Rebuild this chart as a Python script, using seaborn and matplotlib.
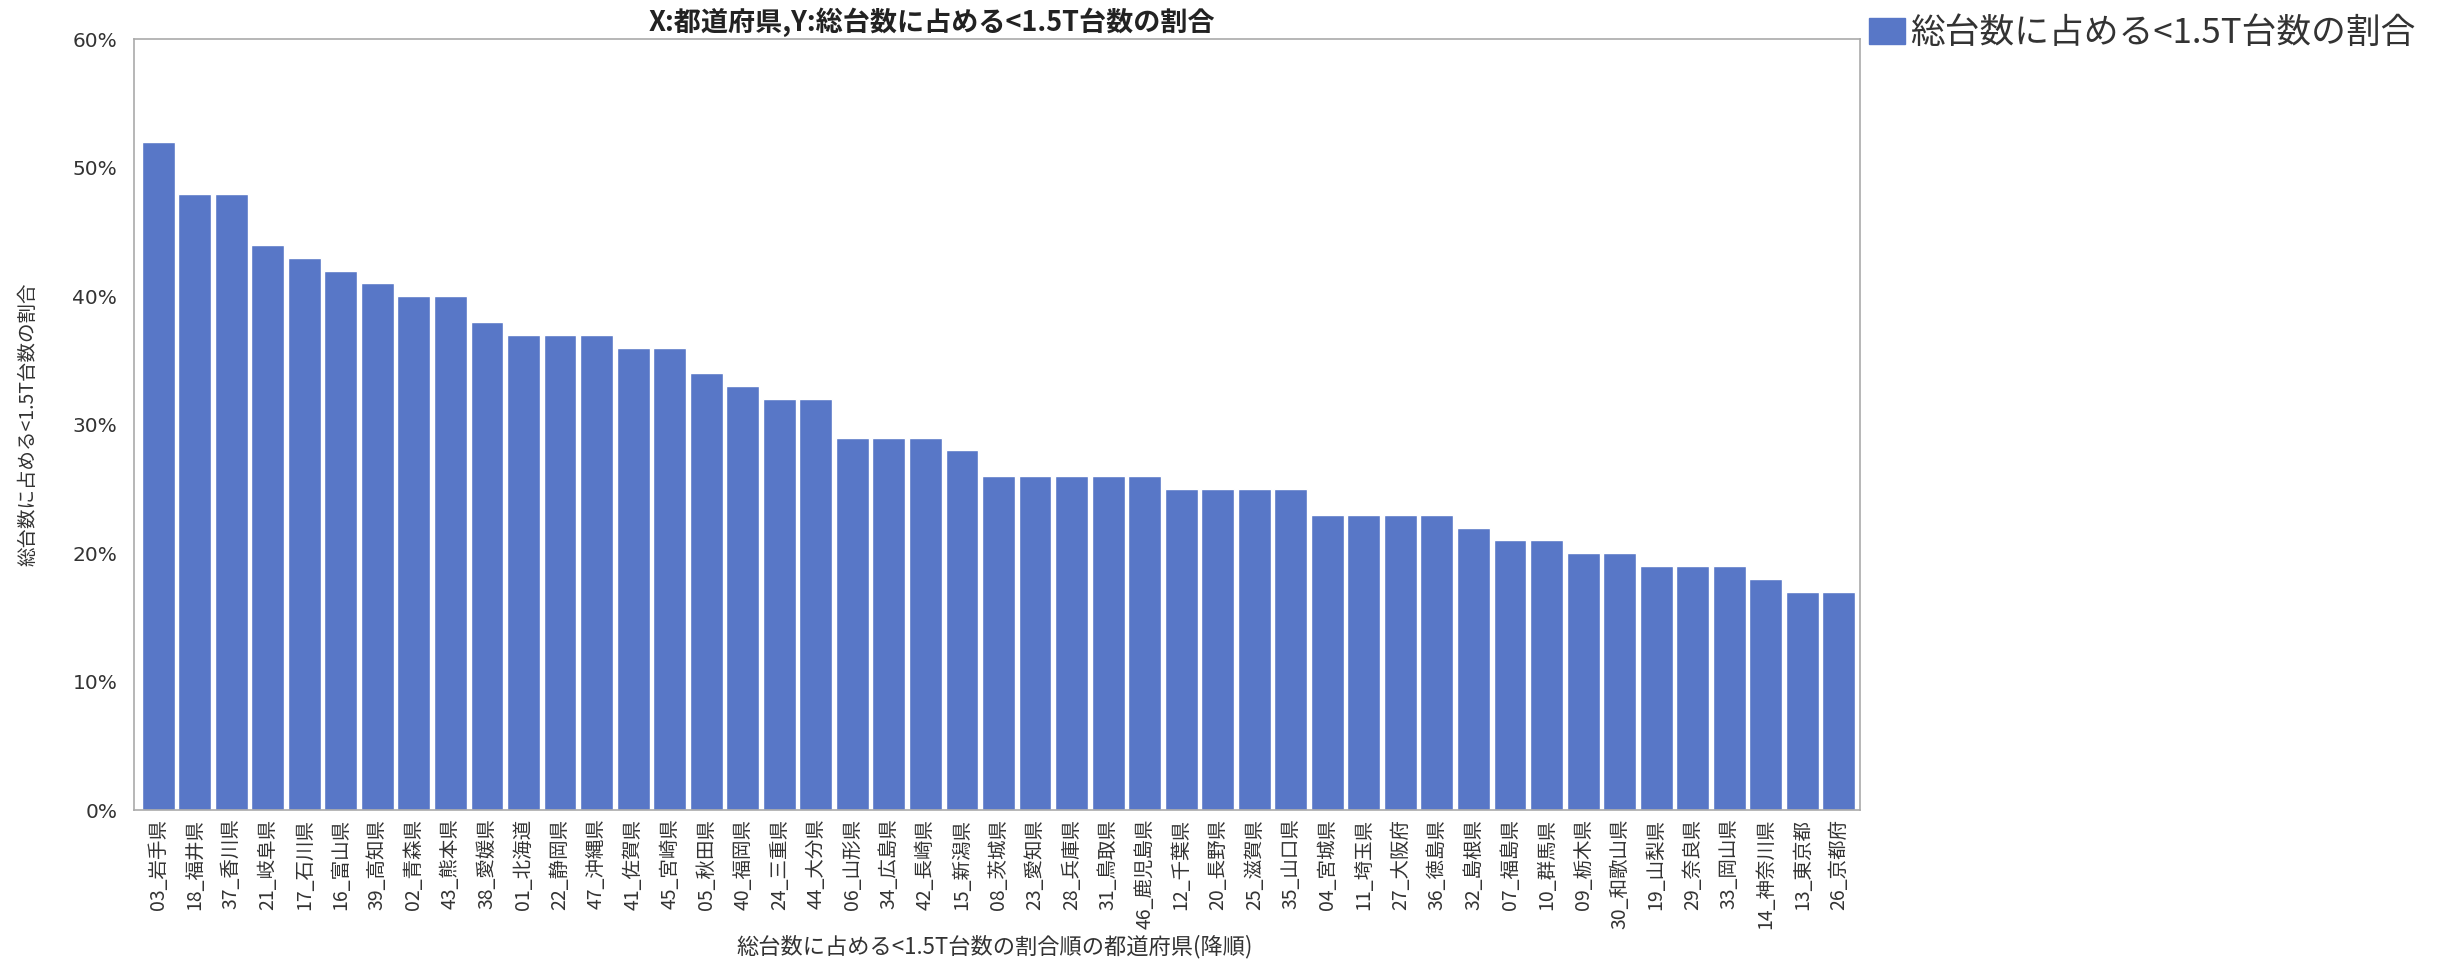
import pandas as pd
import matplotlib
matplotlib.use("Agg")
import matplotlib.pyplot as plt
import matplotlib.patches as mpatches
from matplotlib.ticker import PercentFormatter
import seaborn as sns

# データ
prefs = ["03_岩手県", "18_福井県", "37_香川県", "21_岐阜県", "17_石川県", "16_富山県",
         "39_高知県", "02_青森県", "43_熊本県", "38_愛媛県", "01_北海道", "22_静岡県",
         "47_沖縄県", "41_佐賀県", "45_宮崎県", "05_秋田県", "40_福岡県", "24_三重県",
         "44_大分県", "06_山形県", "34_広島県", "42_長崎県", "15_新潟県", "08_茨城県",
         "23_愛知県", "28_兵庫県", "31_鳥取県", "46_鹿児島県", "12_千葉県", "20_長野県",
         "25_滋賀県", "35_山口県", "04_宮城県", "11_埼玉県", "27_大阪府", "36_徳島県",
         "32_島根県", "07_福島県", "10_群馬県", "09_栃木県", "30_和歌山県", "19_山梨県",
         "29_奈良県", "33_岡山県", "14_神奈川県", "13_東京都", "26_京都府"]
ratio = [52, 48, 48, 44, 43, 42, 41, 40, 40, 38, 37, 37, 37, 36, 36, 34, 33, 32, 32,
         29, 29, 29, 28, 26, 26, 26, 26, 26, 25, 25, 25, 25, 23, 23, 23, 23, 22, 21, 21,
         20, 20, 19, 19, 19, 18, 17, 17]

series_name = "総台数に占める<1.5T台数の割合"
title = "X:都道府県,Y:総台数に占める<1.5T台数の割合"
xlabel = "総台数に占める<1.5T台数の割合順の都道府県(降順)"

df = pd.DataFrame({"pref": prefs, "ratio": ratio})

sns.set_style("white")
plt.rcParams['font.family'] = ['Noto Sans CJK JP', 'DejaVu Sans']

bar_color = "#5877c7"
grey = "#aaaaaa"

fig = plt.figure(figsize=(24.41, 9.6), dpi=100)
ax = fig.add_axes([0.0549, 0.156, 0.7071, 0.803])

sns.barplot(data=df, x="pref", y="ratio", color=bar_color, width=0.9,
            saturation=1, ax=ax)

ax.set_ylim(0, 60)
ax.set_xlim(-0.66, 46.58)
ax.set_yticks(range(0, 61, 10))
ax.yaxis.set_major_formatter(PercentFormatter(decimals=0))
ax.tick_params(axis="y", length=9, width=1, color=grey, labelsize=14.5,
               labelcolor="#333333", pad=3)
for t in ax.get_yticklabels():
    t.set_family("DejaVu Sans")
ax.tick_params(axis="x", length=0, labelsize=14, labelcolor="#333333",
               rotation=90, pad=6)
for s in ax.spines.values():
    s.set_color(grey)
    s.set_linewidth(1.2)
ax.set_xlabel("")
ax.set_ylabel("")

fig.text(0.0115, 0.558, series_name, rotation=90, ha="center", va="center",
         fontsize=14, color="#333333")
fig.text(0.4075, 0.014, xlabel, ha="center", va="center", fontsize=16,
         color="#333333")
fig.text(0.3818, 0.977, title, ha="center", va="center", fontsize=19.5,
         fontweight="bold", color="#222222")

handle = mpatches.Patch(color=bar_color, label=series_name)
fig.legend(handles=[handle], loc="upper left", bbox_to_anchor=(0.757, 1.005),
           frameon=False, fontsize=25, handlelength=1.04, handleheight=0.75,
           handletextpad=0.15, borderaxespad=0.2, labelcolor="#333333")

fig.savefig("out.png", dpi=100)
